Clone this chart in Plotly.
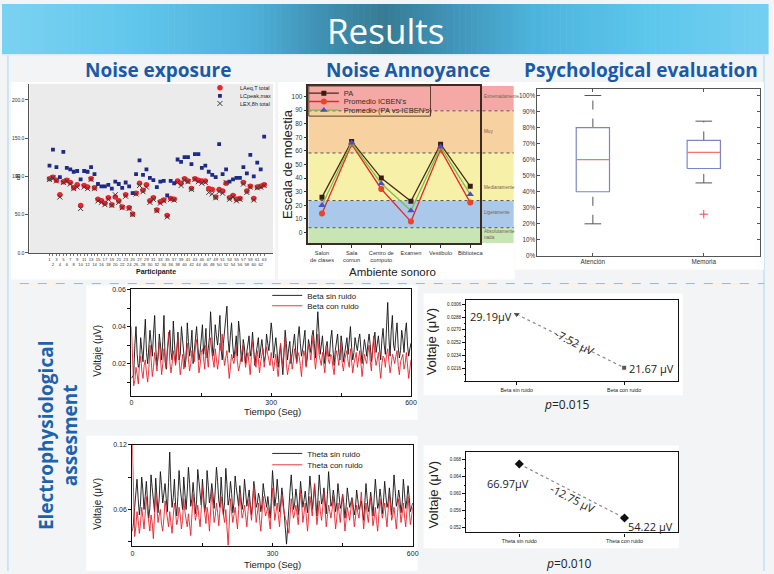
import plotly.graph_objects as go

W, H = 774, 574


def fx(p):
    return p / W


def fy(p):
    return 1 - p / H


def dom_x(a, b):
    return [fx(a), fx(b)]


def dom_y(top, bottom):
    return [fy(bottom), fy(top)]


# ---------------------------------------------------------------- data
participante = list(range(1, 64))
laeq_t_total = [97, 99, 95, 76, 93, 95, 92, 85, 89, 62,
                88, 86, 97, 85, 70, 68, 65, 72, 63, 73,
                68, 60, 76, 59, 51, 78, 91, 82, 89, 68,
                72, 56, 67, 69, 49, 71, 70, 94, 91, 97,
                94, 84, 97, 95, 94, 94, 84, 83, 73, 83,
                81, 91, 72, 75, 70, 71, 92, 81, 87, 71,
                86, 87, 89]
lcpeak_max = [114, 135, 112, 99, 132, 111, 109, 106, 107, 96,
              107, 106, 112, 103, 90, 87, 87, 89, 84, 93,
              90, 85, 92, 87, 78, 103, 121, 102, 109, 98,
              95, 86, 93, 94, 75, 94, 91, 122, 119, 125,
              125, 116, 129, 129, 111, 114, 106, 102, 99, 142,
              103, 109, 93, 96, 98, 98, 112, 104, 128, 100,
              118, 109, 152]
lex_8h_total = [96, 98, 94, 73, 92, 94, 90, 84, 86, 58,
                86, 84, 96, 84, 68, 66, 63, 70, 62, 76,
                66, 59, 74, 58, 50, 77, 88, 80, 86, 66,
                70, 55, 65, 68, 47, 70, 69, 92, 88, 95,
                93, 83, 96, 93, 91, 92, 79, 77, 72, 80,
                78, 92, 70, 73, 68, 70, 90, 79, 86, 69,
                85, 86, 88]
noise_y_ticks = [0, 50, 100, 150, 200]

ambientes = ["Salon<br>de clases", "Sala<br>comun", "Centro de<br>computo",
             "Examen", "Vestibulo", "Biblioteca"]
pa = [26, 67, 40, 23, 65, 34]
promedio_icben = [14, 65, 32, 8, 61, 22]
promedio_pa_icben = [20, 66, 36, 16, 63, 28]
band_limits = [-8, 3.5, 23.5, 58.5, 89.5, 108]
band_labels = ["Absolutamente<br>nada", "Ligeramente", "Medianamente", "Muy", "Extremadamente"]
band_label_y = [-1.5, 15, 33, 74.5, 100]

psych_cats = ["Atención", "Memoria"]
psych_low = [20, 45.5]
psych_q1 = [40, 54.5]
psych_median = [60, 64.5]
psych_q3 = [80, 72]
psych_high = [100, 84]
psych_outliers = [[], [26]]

# EEG samples every 2.5 s from 0 to 600 s; voltages in units of 0.001 (axis units)
tiempo_seg = [i * 2.5 for i in range(241)]
beta_sin_ruido_x1000 = [
    12, 13, 14, 30, 40, 25, 18, 20, 34, 27, 21, 33, 44, 26, 20, 29, 38, 31, 24, 36,
    46, 28, 19, 24, 36, 30, 22, 32, 46, 21, 17, 28, 35, 38, 26, 22, 43, 30, 20, 27,
    37, 22, 25, 40, 33, 27, 18, 23, 42, 32, 24, 29, 38, 20, 27, 35, 40, 30, 22, 26,
    36, 41, 25, 30, 39, 23, 28, 34, 48, 38, 24, 29, 41, 35, 30, 37, 46, 28, 22, 31,
    38, 44, 51, 33, 26, 35, 42, 30, 23, 28, 35, 24, 43, 37, 25, 21, 33, 29, 20, 26,
    31, 35, 24, 28, 37, 29, 19, 25, 30, 34, 23, 29, 33, 27, 21, 24, 36, 31, 27, 33,
    42, 36, 23, 29, 34, 27, 18, 25, 30, 22, 14, 26, 38, 31, 22, 28, 32, 20, 25, 30,
    36, 27, 21, 34, 40, 31, 24, 28, 34, 38, 19, 23, 33, 29, 26, 35, 38, 31, 23, 36,
    48, 37, 25, 30, 35, 26, 20, 29, 32, 24, 24, 33, 38, 28, 19, 27, 31, 36, 26, 22,
    35, 30, 21, 25, 30, 34, 25, 32, 40, 29, 22, 26, 34, 30, 27, 33, 36, 28, 20, 27,
    33, 29, 24, 31, 36, 30, 21, 27, 31, 37, 26, 32, 35, 28, 22, 33, 39, 30, 25, 40,
    53, 34, 24, 38, 46, 30, 27, 36, 42, 29, 23, 27, 38, 33, 26, 37, 42, 30, 24, 28,
    31]
beta_con_ruido_x1000 = [
    40, 20, 8, 11, 18, 14, 9, 20, 24, 16, 12, 19, 22, 15, 10, 17, 30, 22, 13, 18,
    26, 21, 16, 25, 32, 23, 14, 20, 28, 24, 18, 29, 37, 21, 15, 20, 27, 23, 19, 28,
    34, 22, 14, 19, 25, 17, 20, 26, 31, 22, 16, 20, 27, 24, 21, 29, 33, 25, 15, 19,
    26, 28, 22, 17, 30, 24, 18, 27, 34, 26, 21, 18, 28, 23, 17, 22, 31, 27, 36, 25,
    19, 23, 27, 20, 12, 18, 25, 22, 20, 24, 29, 21, 16, 19, 24, 27, 30, 23, 18, 22,
    26, 20, 14, 24, 32, 26, 20, 18, 27, 22, 15, 21, 24, 28, 18, 23, 29, 25, 21, 19,
    26, 22, 16, 21, 25, 18, 13, 20, 31, 24, 19, 27, 34, 20, 14, 18, 22, 25, 17, 21,
    28, 23, 20, 26, 24, 19, 13, 22, 27, 24, 18, 26, 30, 27, 22, 29, 35, 24, 17, 23,
    36, 25, 21, 19, 26, 21, 15, 23, 29, 22, 20, 25, 24, 18, 14, 22, 27, 24, 19, 26,
    31, 20, 16, 22, 25, 27, 21, 18, 28, 23, 15, 20, 24, 26, 18, 22, 27, 20, 13, 19,
    25, 22, 20, 26, 30, 21, 16, 28, 35, 24, 19, 22, 26, 18, 12, 20, 24, 23, 18, 25,
    28, 21, 15, 19, 25, 23, 20, 24, 27, 19, 14, 21, 23, 25, 17, 20, 26, 18, 12, 17,
    22]
theta_sin_ruido_x1000 = [
    40, 48, 62, 75, 88, 70, 55, 66, 90, 78, 60, 72, 86, 68, 52, 61, 92, 80, 64, 58,
    89, 74, 57, 70, 95, 82, 66, 75, 84, 70, 58, 85, 113, 80, 62, 71, 88, 65, 54, 72,
    96, 80, 67, 60, 90, 74, 60, 76, 99, 84, 63, 70, 85, 72, 56, 68, 97, 86, 70, 64,
    88, 75, 58, 66, 96, 82, 66, 72, 84, 74, 61, 78, 99, 86, 68, 62, 90, 72, 55, 67,
    98, 83, 64, 70, 86, 75, 57, 66, 91, 80, 69, 63, 82, 73, 60, 67, 88, 76, 63, 70,
    78, 64, 55, 68, 86, 77, 62, 66, 75, 70, 58, 65, 84, 75, 66, 62, 72, 64, 52, 70,
    96, 80, 63, 72, 88, 74, 58, 65, 80, 70, 50, 42, 28, 48, 64, 78, 92, 76, 60, 66,
    79, 70, 55, 68, 86, 74, 62, 69, 77, 66, 57, 73, 91, 78, 60, 70, 83, 69, 54, 72,
    92, 77, 65, 70, 80, 68, 56, 74, 95, 79, 63, 67, 78, 70, 58, 66, 84, 73, 61, 65,
    74, 66, 52, 63, 80, 71, 62, 66, 71, 64, 55, 62, 78, 69, 60, 63, 68, 59, 50, 66,
    84, 70, 58, 64, 76, 67, 54, 70, 88, 74, 61, 66, 79, 70, 56, 68, 86, 73, 62, 67,
    80, 69, 55, 72, 92, 78, 63, 68, 78, 70, 57, 66, 88, 75, 61, 69, 82, 71, 58, 62,
    66]
theta_con_ruido_x1000 = [
    120, 60, 35, 44, 58, 50, 38, 47, 62, 53, 42, 56, 72, 58, 45, 40, 55, 48, 33, 52,
    76, 62, 48, 55, 60, 46, 40, 52, 68, 60, 50, 44, 58, 49, 38, 54, 66, 57, 46, 51,
    62, 55, 42, 50, 70, 58, 48, 44, 56, 46, 36, 55, 74, 62, 50, 56, 64, 53, 44, 60,
    80, 66, 52, 47, 62, 55, 40, 58, 78, 64, 48, 54, 66, 57, 45, 60, 72, 61, 52, 48,
    60, 42, 27, 48, 70, 58, 48, 55, 62, 52, 42, 60, 76, 63, 52, 57, 64, 54, 44, 58,
    70, 60, 50, 66, 82, 64, 48, 56, 66, 50, 40, 56, 72, 62, 54, 58, 62, 51, 42, 60,
    80, 64, 50, 58, 66, 54, 44, 60, 74, 63, 56, 52, 48, 44, 38, 54, 70, 60, 52, 57,
    64, 55, 46, 62, 78, 64, 48, 57, 66, 52, 40, 56, 72, 63, 54, 68, 84, 62, 46, 56,
    68, 58, 50, 62, 76, 60, 44, 54, 64, 58, 52, 60, 72, 56, 42, 52, 66, 57, 48, 62,
    74, 55, 40, 51, 62, 56, 50, 60, 70, 58, 44, 53, 64, 57, 52, 63, 76, 58, 42, 54,
    66, 56, 48, 60, 72, 58, 45, 52, 62, 50, 40, 55, 70, 61, 52, 58, 66, 54, 44, 60,
    74, 62, 50, 55, 62, 52, 42, 57, 70, 60, 48, 56, 66, 54, 44, 58, 72, 59, 46, 53,
    62]

beta_cats = ["Beta sin ruido", "Beta con ruido"]
beta_means = [0.02919, 0.02167]
beta_labels = ["29.19μV", "21.67 µV"]
beta_diff = "-7.52 μV"
beta_p = "<i>p</i>=0.015"
beta_ticks = [0.0216, 0.0234, 0.0252, 0.0270, 0.0288, 0.0306]

theta_cats = ["Theta sin ruido", "Theta con ruido"]
theta_means = [0.06697, 0.05422]
theta_labels = ["66.97μV", "54.22 μV"]
theta_diff = "-12.75 μV"
theta_p = "<i>p</i>=0.010"
theta_ticks = [0.052, 0.056, 0.060, 0.064, 0.068]

# ---------------------------------------------------------------- styles
ARIAL = "Liberation Sans, Arial, sans-serif"
CALIBRI = "Open Sans, sans-serif"
TITLE_BLUE = "#1b5aa6"

fig = go.Figure()

# ---- noise exposure
fig.add_trace(go.Scatter(x=participante, y=laeq_t_total, mode="markers", name="LAeq,T total",
                         marker=dict(symbol="circle", size=5.5, color="#e8262b"),
                         xaxis="x", yaxis="y", legend="legend"))
fig.add_trace(go.Scatter(x=participante, y=lcpeak_max, mode="markers", name="LCpeak,max",
                         marker=dict(symbol="square", size=3.8, color="#1f2a86"),
                         xaxis="x", yaxis="y", legend="legend2"))
fig.add_trace(go.Scatter(x=participante, y=lex_8h_total, mode="markers", name="LEX,8h total",
                         marker=dict(symbol="x-thin", size=5, color="#3a3a3a", line=dict(width=1, color="#3a3a3a")),
                         xaxis="x", yaxis="y", legend="legend3"))

# ---- noise annoyance
fig.add_trace(go.Scatter(x=ambientes, y=pa, mode="lines+markers", name="PA",
                         line=dict(color="#4a2a1a", width=1.3),
                         marker=dict(symbol="square", size=5, color="#3a1d10"),
                         xaxis="x2", yaxis="y2", legend="legend4"))
fig.add_trace(go.Scatter(x=ambientes, y=promedio_icben, mode="lines+markers", name="Promedio ICBEN's",
                         line=dict(color="#e8262b", width=1.3),
                         marker=dict(symbol="circle", size=6, color="#e8452b"),
                         xaxis="x2", yaxis="y2", legend="legend5"))
fig.add_trace(go.Scatter(x=ambientes, y=promedio_pa_icben, mode="lines+markers", name="Promedio (PA vs ICBEN's)",
                         line=dict(color="#7ac143", width=1.3),
                         marker=dict(symbol="triangle-up", size=6.5, color="#4b4fbf"),
                         xaxis="x2", yaxis="y2", legend="legend6"))

# ---- psychological evaluation (box plots from their statistics)
BOX_HW = 0.15
CAP_HW = 0.075
for i, cat in enumerate(psych_cats):
    fig.add_trace(go.Scatter(x=[i, i], y=[psych_q3[i], psych_high[i]], mode="lines",
                             line=dict(color="#555", width=1, dash="dash"),
                             xaxis="x3", yaxis="y3", showlegend=False, hoverinfo="skip"))
    fig.add_trace(go.Scatter(x=[i, i], y=[psych_low[i], psych_q1[i]], mode="lines",
                             line=dict(color="#555", width=1, dash="dash"),
                             xaxis="x3", yaxis="y3", showlegend=False, hoverinfo="skip"))
    for v in (psych_low[i], psych_high[i]):
        fig.add_trace(go.Scatter(x=[i - CAP_HW, i + CAP_HW], y=[v, v], mode="lines",
                                 line=dict(color="#555", width=1),
                                 xaxis="x3", yaxis="y3", showlegend=False, hoverinfo="skip"))
    fig.add_trace(go.Scatter(x=[i - BOX_HW, i + BOX_HW, i + BOX_HW, i - BOX_HW, i - BOX_HW],
                             y=[psych_q1[i], psych_q1[i], psych_q3[i], psych_q3[i], psych_q1[i]],
                             mode="lines", line=dict(color="#7a86c6", width=1.2),
                             fill="toself", fillcolor="white",
                             xaxis="x3", yaxis="y3", showlegend=False, name=cat))
    fig.add_trace(go.Scatter(x=[i - BOX_HW, i + BOX_HW], y=[psych_median[i], psych_median[i]],
                             mode="lines", line=dict(color="#f07474", width=1.2),
                             xaxis="x3", yaxis="y3", showlegend=False, hoverinfo="skip"))
    if psych_outliers[i]:
        fig.add_trace(go.Scatter(x=[i] * len(psych_outliers[i]), y=psych_outliers[i], mode="markers",
                                 marker=dict(symbol="cross-thin", size=6, color="#f04848",
                                             line=dict(width=1, color="#f04848")),
                                 xaxis="x3", yaxis="y3", showlegend=False))

# ---- time series
beta_sin = [v / 1000 for v in beta_sin_ruido_x1000]
beta_con = [v / 1000 for v in beta_con_ruido_x1000]
theta_sin = [v / 1000 for v in theta_sin_ruido_x1000]
theta_con = [v / 1000 for v in theta_con_ruido_x1000]

fig.add_trace(go.Scatter(x=tiempo_seg, y=beta_sin, mode="lines", name="Beta sin ruido",
                         line=dict(color="#111111", width=0.9), xaxis="x4", yaxis="y4", legend="legend7"))
fig.add_trace(go.Scatter(x=tiempo_seg, y=beta_con, mode="lines", name="Beta con ruido",
                         line=dict(color="#e8202a", width=0.9), xaxis="x4", yaxis="y4", legend="legend8"))
fig.add_trace(go.Scatter(x=tiempo_seg, y=theta_sin, mode="lines", name="Theta sin ruido",
                         line=dict(color="#111111", width=0.9), xaxis="x5", yaxis="y5", legend="legend9"))
fig.add_trace(go.Scatter(x=tiempo_seg, y=theta_con, mode="lines", name="Theta con ruido",
                         line=dict(color="#e8202a", width=0.9), xaxis="x5", yaxis="y5", legend="legend10"))

# ---- mean comparison plots
fig.add_trace(go.Scatter(x=beta_cats, y=beta_means, mode="lines", line=dict(color="#8a8a8a", width=1.2, dash="dot"),
                         xaxis="x6", yaxis="y6", showlegend=False, hoverinfo="skip"))
fig.add_trace(go.Scatter(x=beta_cats, y=beta_means, mode="markers",
                         marker=dict(symbol=["triangle-down", "square"], size=[7, 5], color="#111"),
                         xaxis="x6", yaxis="y6", showlegend=False))
fig.add_trace(go.Scatter(x=theta_cats, y=theta_means, mode="lines", line=dict(color="#8a8a8a", width=1.2, dash="dot"),
                         xaxis="x7", yaxis="y7", showlegend=False, hoverinfo="skip"))
fig.add_trace(go.Scatter(x=theta_cats, y=theta_means, mode="markers",
                         marker=dict(symbol="diamond", size=7, color="#111"),
                         xaxis="x7", yaxis="y7", showlegend=False))

# ---------------------------------------------------------------- axes
def frame_axis(**kw):
    base = dict(showgrid=False, zeroline=False, showline=True, linecolor="#111", linewidth=1.2,
                tickcolor="#111", tickfont=dict(family=ARIAL, size=7, color="#222"))
    base.update(kw)
    return base


axes = dict(
    xaxis=dict(domain=dom_x(27.7, 274), anchor="y", range=[-4.8, 65.6], showgrid=False, zeroline=False,
               showline=True, linecolor="#555", linewidth=1, ticks="outside", ticklen=2, tickcolor="#777",
               tickmode="array", tickvals=participante,
               ticktext=[str(n) if n % 2 else "<br>" + str(n) for n in participante],
               tickangle=0, tickfont=dict(family=ARIAL, size=4.2, color="#333")),
    yaxis=dict(domain=dom_y(80.7, 252), anchor="x", range=[0, 221], showgrid=False, zeroline=False,
               showline=True, linecolor="#555", linewidth=1, ticks="outside", ticklen=3, tickcolor="#555",
               tickvals=noise_y_ticks, ticktext=["%.1f" % v for v in noise_y_ticks],
               tickfont=dict(family=ARIAL, size=5, color="#333")),
    xaxis2=dict(domain=dom_x(309.7, 483), anchor="y2", range=[-0.455, 5.33], showgrid=False, zeroline=False,
                showline=True, mirror=True, linecolor="#3b2a20", linewidth=1.5, ticks="outside", ticklen=3,
                tickcolor="#333", tickfont=dict(family=ARIAL, size=5.7, color="#333"), tickangle=0),
    yaxis2=dict(domain=dom_y(82.7, 242.3), anchor="x2", range=[-8, 108], showgrid=False, zeroline=False,
                showline=True, mirror=True, linecolor="#3b2a20", linewidth=1.5, ticks="outside", ticklen=3,
                tickcolor="#333", tickvals=list(range(0, 101, 10)),
                tickfont=dict(family=ARIAL, size=6.5, color="#333")),
    xaxis3=dict(domain=dom_x(541, 765.7), anchor="y3", range=[-0.5, 1.505], showgrid=False, zeroline=False,
                showline=True, mirror="ticks", linecolor="#555", linewidth=1, ticks="inside", ticklen=3,
                tickcolor="#555", tickvals=list(range(len(psych_cats))), ticktext=psych_cats,
                tickfont=dict(family=ARIAL, size=6.3, color="#333")),
    yaxis3=dict(domain=dom_y(86.3, 255), anchor="x3", range=[0, 103.9], showgrid=False, zeroline=False,
                showline=True, mirror="ticks", linecolor="#555", linewidth=1, ticks="inside", ticklen=3,
                tickcolor="#555", tickvals=list(range(0, 101, 10)),
                ticktext=["%d%%" % v for v in range(0, 101, 10)],
                tickfont=dict(family=ARIAL, size=6.3, color="#333")),
    xaxis4=frame_axis(domain=dom_x(130.7, 413.3), anchor="y4", range=[0, 600], mirror=True, ticks="inside",
                      ticklen=3, tickvals=[0, 150, 300, 450, 600], ticktext=["0", "", "300", "", "600"]),
    yaxis4=frame_axis(domain=dom_y(289, 396.7), anchor="x4", range=[0.0026, 0.06], mirror=True, ticks="outside",
                      ticklen=3, tickvals=[0.01, 0.02, 0.03, 0.04, 0.05, 0.06],
                      ticktext=["", "0.02", "", "0.04", "", "0.06"]),
    xaxis5=frame_axis(domain=dom_x(131.7, 415), anchor="y5", range=[0, 600], mirror=True, ticks="inside",
                      ticklen=3, tickvals=[0, 150, 300, 450, 600], ticktext=["0", "", "300", "", "600"]),
    yaxis5=frame_axis(domain=dom_y(446, 549), anchor="x5", range=[0.026, 0.12], mirror=True, ticks="outside",
                      ticklen=3, tickvals=[0.03, 0.06, 0.09, 0.12], ticktext=["", "0.06", "", "0.12"]),
    xaxis6=frame_axis(domain=dom_x(469, 683), anchor="y6", range=[-0.47, 1.5], mirror=True, ticks="outside",
                      ticklen=3, tickfont=dict(family=ARIAL, size=5.3, color="#222")),
    yaxis6=frame_axis(domain=dom_y(299.3, 381.7), anchor="x6", range=[0.0198, 0.03125], mirror=True,
                      ticks="outside", ticklen=3, tickvals=beta_ticks, ticktext=["%.4f" % v for v in beta_ticks],
                      minor=dict(ticks="outside", ticklen=1.5, tick0=beta_ticks[0], dtick=0.0009, tickcolor="#111"),
                      tickfont=dict(family=ARIAL, size=4.6, color="#222")),
    xaxis7=frame_axis(domain=dom_x(469, 683), anchor="y7", range=[-0.505, 1.508], mirror=True, ticks="outside",
                      ticklen=3, tickfont=dict(family=ARIAL, size=5.3, color="#222")),
    yaxis7=frame_axis(domain=dom_y(454, 535), anchor="x7", range=[0.0508, 0.0697], mirror=True,
                      ticks="outside", ticklen=3, tickvals=theta_ticks, ticktext=["%.3f" % v for v in theta_ticks],
                      minor=dict(ticks="outside", ticklen=1.5, tick0=theta_ticks[0], dtick=0.002, tickcolor="#111"),
                      tickfont=dict(family=ARIAL, size=4.6, color="#222")),
)

# ---------------------------------------------------------------- legends (one entry each)
def one_legend(x_left, y_mid, size, color="#222"):
    return dict(x=fx(x_left), y=fy(y_mid), xanchor="left", yanchor="middle", xref="paper", yref="paper",
                bgcolor="rgba(0,0,0,0)", borderwidth=0, itemwidth=30, itemsizing="trace",
                font=dict(family=ARIAL, size=size, color=color))


legends = dict(
    legend=one_legend(200, 84.7, 5.5),
    legend2=one_legend(200, 93, 5.5),
    legend3=one_legend(200, 100.7, 5.5),
    legend4=one_legend(305, 90.3, 7.5, "#3b2a20"),
    legend5=one_legend(305, 98.7, 7.5, "#3b2a20"),
    legend6=one_legend(305, 107.5, 7.5, "#3b2a20"),
    legend7=one_legend(268, 295, 8),
    legend8=one_legend(268, 305.5, 8),
    legend9=one_legend(268, 455, 8),
    legend10=one_legend(268, 466.5, 8),
)

# ---------------------------------------------------------------- shapes
shapes = []


def rect_px(x0, y0, x1, y1, fill, line_color=None, lw=0, layer="below"):
    shapes.append(dict(type="rect", xref="paper", yref="paper", x0=fx(x0), x1=fx(x1), y0=fy(y1), y1=fy(y0),
                       fillcolor=fill, line=dict(width=lw, color=line_color or fill), layer=layer))


def line_px(x0, y0, x1, y1, color, width=1, dash="solid", layer="below"):
    shapes.append(dict(type="line", xref="paper", yref="paper", x0=fx(x0), x1=fx(x1), y0=fy(y0), y1=fy(y1),
                       line=dict(color=color, width=width, dash=dash), layer=layer))


# banner gradient (decorative)
stops = [(0, "#7bd2f1"), (130, "#62c7ec"), (250, "#4fb2da"), (320, "#4092b5"), (385, "#377b94"),
         (450, "#4092b5"), (540, "#4db5dd"), (660, "#5ec7ec"), (774, "#74cff1")]


def hx(c):
    return [int(c[i:i + 2], 16) for i in (1, 3, 5)]


def grad(x):
    for (xa, ca), (xb, cb) in zip(stops[:-1], stops[1:]):
        if xa <= x <= xb:
            t = (x - xa) / (xb - xa)
            a, b = hx(ca), hx(cb)
            return "rgb(%d,%d,%d)" % tuple(round(a[k] + (b[k] - a[k]) * t) for k in range(3))
    return stops[-1][1]


step = 6
for i in range(0, W, step):
    rect_px(i, 0, i + step + 0.6, 51, grad(i + step / 2))
line_px(0, 51.5, W, 51.5, "#d7eef8", 1.5)
line_px(6, 52, 6, H, "#bfe1f4", 1.5)
line_px(770, 52, 770, H, "#bfe1f4", 1.5)

# white panels
for (a, b, c, d) in [(9, 79, 276, 279), (279, 79, 518, 279), (518, 79, 770, 269), (85, 285, 420, 421),
                     (85, 437, 420, 574), (426, 293, 688, 396), (426, 447, 684, 551)]:
    rect_px(a, b, c, d, "white")

# noise exposure plot background
shapes.append(dict(type="rect", xref="x domain", yref="y domain", x0=0, x1=1, y0=0, y1=1,
                   fillcolor="#ebebeb", line=dict(width=0), layer="below"))

# annoyance bands
band_colors = ["#c8e6b4", "#a9c8ea", "#f6f0a8", "#f8d1a1", "#f4a9a6"]
for k, col in enumerate(band_colors):
    shapes.append(dict(type="rect", xref="paper", yref="y2", x0=fx(309.7), x1=fx(517),
                       y0=band_limits[k], y1=band_limits[k + 1], fillcolor=col, line=dict(width=0), layer="below"))
for lim in band_limits[1:-1]:
    shapes.append(dict(type="line", xref="paper", yref="y2", x0=fx(309.7), x1=fx(517), y0=lim, y1=lim,
                       line=dict(color="#555", width=1, dash="dot"), layer="below"))
rect_px(310, 83, 433, 113.5, "rgba(0,0,0,0)", "#5a4030", 1, layer="above")

# separator
line_px(18, 283, 770, 283, "#8dbbe3", 1, "dash")

# ---------------------------------------------------------------- annotations
ann = []


def text_px(x, y, s, size, color="#222", family=ARIAL, angle=0, xanchor="center", yanchor="middle", weight=None):
    f = dict(family=family, size=size, color=color)
    if weight:
        f["weight"] = weight
    ann.append(dict(x=fx(x), y=fy(y), xref="paper", yref="paper", text=s, showarrow=False, font=f,
                    textangle=angle, xanchor=xanchor, yanchor=yanchor))


text_px(388, 27, "Results", 35, "white", CALIBRI)
text_px(158, 67, "Noise exposure", 19, TITLE_BLUE, CALIBRI, weight="bold")
text_px(410, 67, "Noise Annoyance", 19, TITLE_BLUE, CALIBRI, weight="bold")
text_px(646, 67, "Psychological evaluation", 19, TITLE_BLUE, CALIBRI, weight="bold")
text_px(57, 436, "Electrophysiological<br>assesment", 19, "#1d62ad", CALIBRI, angle=-90, weight="bold")

# noise exposure titles
text_px(16.5, 175, "dB", 5.5, "#222", angle=-90)
text_px(156, 271, "<b>Participante</b>", 7, "#222")

# annoyance titles
text_px(288, 162, "Escala de molestia", 13, "#222", angle=-90)
text_px(395, 271, "Ambiente sonoro", 11.5, "#222")
for lab, yv in zip(band_labels, band_label_y):
    ann.append(dict(x=fx(485), y=yv, xref="paper", yref="y2", text=lab, showarrow=False,
                    xanchor="left", yanchor="middle", align="left",
                    font=dict(family=ARIAL, size=4.6, color="#7a5f55")))

# time series titles
text_px(97, 351, "Voltaje (μV)", 10, "#222", angle=-90)
text_px(273, 413, "Tiempo (Seg)", 9.5, "#222")
text_px(97, 506, "Voltaje (μV)", 10, "#222", angle=-90)
text_px(273, 567, "Tiempo (Seg)", 9.5, "#222")

# mean comparison titles / labels
text_px(434, 342, "Voltaje (μV)", 13, "#222", angle=-90)
text_px(436, 497, "Voltaje (μV)", 13, "#222", angle=-90)
text_px(571, 405, beta_p, 12, "#222", CALIBRI)
text_px(573, 566, theta_p, 12, "#222", CALIBRI)


def data_text(xa, ya, x, y, s, xanchor="center", xshift=0, yshift=0, angle=0):
    ann.append(dict(x=x, y=y, xref=xa, yref=ya, text=s, showarrow=False, xanchor=xanchor, yanchor="middle",
                    xshift=xshift, yshift=yshift, textangle=angle,
                    font=dict(family=CALIBRI, size=11, color="#222")))


data_text("x6", "y6", 0, beta_means[0], beta_labels[0], "right", -3, -2)
data_text("x6", "y6", 1, beta_means[1], beta_labels[1], "left", 3, -1)
data_text("x6", "y6", 0.5, (beta_means[0] + beta_means[1]) / 2, beta_diff, "center", 5, -1, 27)
data_text("x7", "y7", 0, theta_means[0], theta_labels[0], "center", -11, -19)
data_text("x7", "y7", 1, theta_means[1], theta_labels[1], "left", 2, -9)
data_text("x7", "y7", 0.5, (theta_means[0] + theta_means[1]) / 2, theta_diff, "center", 1, -7, 27)

fig.update_layout(
    width=W, height=H, margin=dict(l=0, r=0, t=0, b=0),
    paper_bgcolor="#f3f4f6", plot_bgcolor="rgba(0,0,0,0)",
    font=dict(family=ARIAL, color="#222"),
    shapes=shapes, annotations=ann, hovermode=False,
    **axes, **legends,
)

fig.write_html("out.html", config=dict(displayModeBar=False),
               post_script="document.body.style.margin='0px';document.body.style.overflow='hidden';")
